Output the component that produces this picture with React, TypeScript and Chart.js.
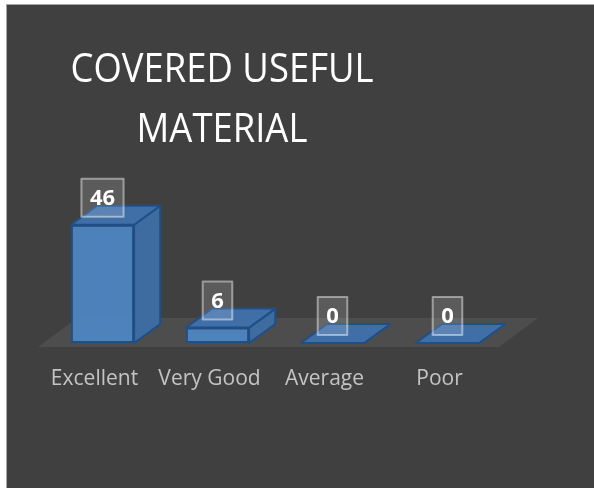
import React, { useEffect, useRef } from "react";
import { Chart, registerables } from "chart.js";

Chart.register(...registerables);

const categories = ["Excellent", "Very Good", "Average", "Poor"];
const responses = [46, 6, 0, 0];
const titleLines = ["COVERED USEFUL", "MATERIAL"];
const yMin = 0;
const yMax = 50;

const FRONT = "rgba(79,136,200,0.9)";
const SIDE = "rgba(62,110,165,0.95)";
const TOP = "rgba(64,114,174,0.95)";
const EDGE = "#1f4f86";

const cube3d = {
  id: "cube3d",
  beforeDatasetsDraw(chart: any) {
    const { ctx, chartArea: a } = chart;
    const meta = chart.getDatasetMeta(0);
    const w = meta.data[0].width;
    const fdx = w * 0.62;
    const fdy = -w * 0.46;
    const y0 = a.bottom + 4;
    ctx.save();
    ctx.fillStyle = "rgba(255,255,255,0.07)";
    ctx.beginPath();
    ctx.moveTo(a.left - 7, y0);
    ctx.lineTo(a.right - 6, y0);
    ctx.lineTo(a.right - 6 + fdx, y0 + fdy);
    ctx.lineTo(a.left - 7 + fdx, y0 + fdy);
    ctx.closePath();
    ctx.fill();
    const dx = w * 0.413;
    const dy = -w * 0.3;
    ctx.strokeStyle = "rgba(31,79,134,0.6)";
    ctx.lineWidth = 1.5;
    meta.data.forEach((bar: any) => {
      const l = bar.x - bar.width / 2;
      const r = bar.x + bar.width / 2;
      ctx.beginPath();
      ctx.moveTo(l + dx, bar.y + dy);
      ctx.lineTo(l + dx, bar.base + dy);
      ctx.lineTo(r + dx, bar.base + dy);
      ctx.moveTo(l + dx, bar.base + dy);
      ctx.lineTo(l, bar.base);
      ctx.stroke();
    });
    ctx.restore();
  },
  afterDatasetsDraw(chart: any) {
    const { ctx } = chart;
    const meta = chart.getDatasetMeta(0);
    ctx.save();
    ctx.lineJoin = "round";
    meta.data.forEach((bar: any) => {
      const w = bar.width;
      const dx = w * 0.413;
      const dy = -w * 0.3;
      const l = bar.x - w / 2;
      const r = bar.x + w / 2;
      const t = bar.y;
      const b = bar.base;
      ctx.strokeStyle = EDGE;
      ctx.lineWidth = 2;
      if (b - t > 0.5) {
        ctx.fillStyle = SIDE;
        ctx.beginPath();
        ctx.moveTo(r, t);
        ctx.lineTo(r + dx, t + dy);
        ctx.lineTo(r + dx, b + dy);
        ctx.lineTo(r, b);
        ctx.closePath();
        ctx.fill();
        ctx.stroke();
      }
      ctx.fillStyle = TOP;
      ctx.beginPath();
      ctx.moveTo(l, t);
      ctx.lineTo(r, t);
      ctx.lineTo(r + dx, t + dy);
      ctx.lineTo(l + dx, t + dy);
      ctx.closePath();
      ctx.fill();
      ctx.stroke();
    });
    meta.data.forEach((bar: any, i: number) => {
      const txt = String(responses[i]);
      ctx.font = "bold 22px 'Open Sans'";
      const tw = ctx.measureText(txt).width;
      const bw = tw + 17;
      const bh = 38;
      const cx = bar.x;
      const cy = bar.y - 27;
      ctx.fillStyle = "rgba(255,255,255,0.14)";
      ctx.fillRect(cx - bw / 2, cy - bh / 2, bw, bh);
      ctx.strokeStyle = "rgba(255,255,255,0.45)";
      ctx.lineWidth = 2;
      ctx.strokeRect(cx - bw / 2, cy - bh / 2, bw, bh);
      ctx.fillStyle = "#ffffff";
      ctx.textAlign = "center";
      ctx.textBaseline = "middle";
      ctx.fillText(txt, cx, cy + 1);
    });
    ctx.restore();
  },
  afterDraw(chart: any) {
    const { ctx } = chart;
    ctx.save();
    ctx.font = "41px 'Open Sans'";
    const sx = 303 / ctx.measureText(titleLines[0]).width;
    ctx.fillStyle = "#ffffff";
    ctx.textAlign = "center";
    ctx.textBaseline = "alphabetic";
    ctx.translate(215, 0);
    ctx.scale(sx, 1);
    ctx.fillText(titleLines[0], 0, 77);
    ctx.fillText(titleLines[1], 0, 137);
    ctx.restore();
  },
};

export default function App() {
  const ref = useRef<HTMLCanvasElement | null>(null);
  useEffect(() => {
    if (!ref.current) return;
    const chart = new Chart(ref.current, {
      type: "bar",
      data: {
        labels: categories,
        datasets: [
          {
            data: responses,
            backgroundColor: FRONT,
            borderColor: EDGE,
            borderWidth: 2,
            borderSkipped: false,
            categoryPercentage: 1,
            barPercentage: 0.55,
          },
        ],
      },
      options: {
        responsive: false,
        animation: false,
        events: [],
        layout: { padding: { left: 38, right: 89, top: 209.5, bottom: 73.8 } },
        plugins: {
          legend: { display: false },
          tooltip: { enabled: false },
          title: { display: false },
        },
        scales: {
          x: {
            grid: { display: false, drawTicks: false },
            border: { display: false },
            ticks: {
              color: "#c4c4c4",
              font: { family: "'Open Sans'", size: 21 },
              padding: 23,
              labelOffset: -8,
            },
          },
          y: { display: false, min: yMin, max: yMax },
        },
      },
      plugins: [cube3d],
    } as any);
    return () => chart.destroy();
  }, []);
  return (
    <div style={{ position: "fixed", left: 0, top: 0, width: 594, height: 488, background: "#ffffff" }}>
      <div
        style={{
          position: "absolute",
          left: 6,
          top: 4,
          width: 588,
          height: 484,
          boxSizing: "border-box",
          background: "#404040",
          borderLeft: "1px solid #a6a6a6",
          borderTop: "1px solid #a6a6a6",
        }}
      >
        <canvas ref={ref} width={587} height={483} style={{ display: "block" }} />
      </div>
    </div>
  );
}
